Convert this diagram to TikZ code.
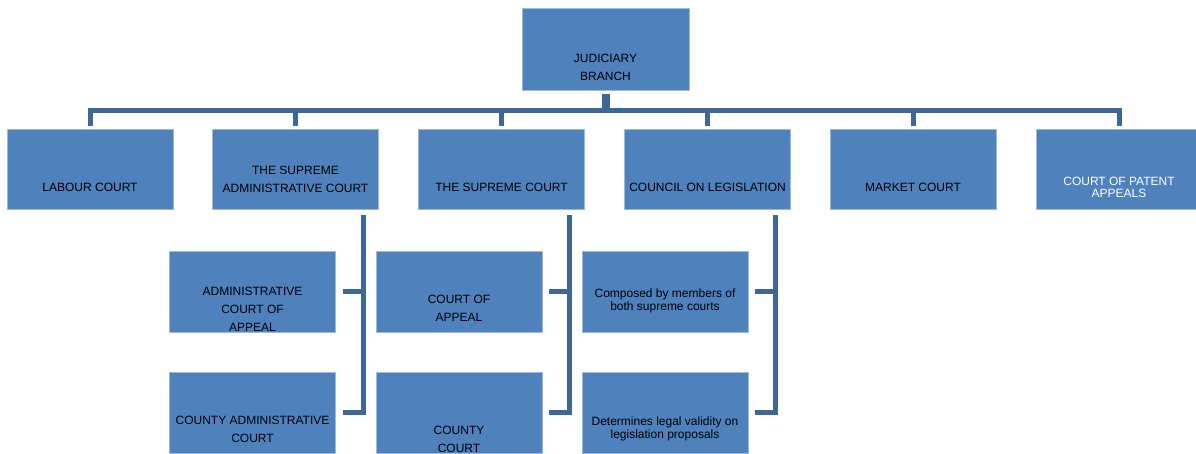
\documentclass[tikz,border=0pt]{standalone}
\usepackage{fontspec}
\setmainfont{Liberation Sans}
\usetikzlibrary{calc}
\definecolor{boxblue}{RGB}{79,129,189}
\definecolor{linkblue}{RGB}{61,102,153}

\begin{document}
\begin{tikzpicture}[x=1pt, y=-1pt,
    box/.style={rectangle, fill=boxblue, draw=boxblue!55!white, very thin,
        minimum width=166pt, minimum height=80pt, inner sep=0pt},
    txt/.style={align=center, font=\fontsize{12}{18}\selectfont, text=black},
    tighttxt/.style={txt, font=\fontsize{12}{13}\selectfont},
    link/.style={draw=linkblue, line width=5pt},
    stem/.style={draw=linkblue, line width=8pt}]
    \useasboundingbox (0,0) rectangle (1196,454);
    \clip (0,0) rectangle (1196,454);
    % top of the tree
    \node[box, minimum width=167pt, minimum height=82pt,
        label={[txt, yshift=-18pt]center:{JUDICIARY\\BRANCH}}] (judiciary) at (605.5,49) {};
    % first row of courts
    \node[box, label={[txt, yshift=-17.5pt]center:LABOUR COURT}] (labour) at (90,169.5) {};
    \node[box, label={[txt, yshift=-9.5pt]center:{THE SUPREME\\ADMINISTRATIVE COURT}}] (sadm) at (295.5,169.5) {};
    \node[box, label={[txt, yshift=-18pt]center:THE SUPREME COURT}] (scourt) at (501.5,169.5) {};
    \node[box, label={[txt, yshift=-18pt]center:COUNCIL ON LEGISLATION}] (council) at (707.5,169.5) {};
    \node[box, label={[txt, yshift=-18pt]center:MARKET COURT}] (market) at (913,169.5) {};
    \node[box, label={[txt, font=\fontsize{12}{12}\selectfont, text=white, yshift=-17.5pt]center:{COURT OF PATENT\\APPEALS}}] (patent) at (1119,169.5) {};
    % lower courts
    \node[box, minimum height=81pt, label={[txt, yshift=-17.5pt]center:{ADMINISTRATIVE\\COURT OF\\APPEAL}}] (adm-appeal) at (252.5,291.5) {};
    \node[box, minimum height=81pt, label={[txt, yshift=-16.5pt]center:{COUNTY ADMINISTRATIVE\\COURT}}] (county-adm) at (252.5,412.5) {};
    \node[box, minimum height=81pt, label={[txt, yshift=-17pt]center:{COURT OF\\APPEAL}}] (appeal) at (459,291.5) {};
    \node[box, minimum height=81pt, label={[txt, yshift=-26.5pt]center:{COUNTY\\COURT}}] (county) at (459,412.5) {};
    \node[box, minimum height=81pt, label={[tighttxt, yshift=-9pt]center:{Composed by members of\\both supreme courts}}] (composed) at (665,291.5) {};
    \node[box, minimum height=81pt, label={[tighttxt, yshift=-16pt]center:{Determines legal validity on\\legislation proposals}}] (validity) at (665,412.5) {};
    % bus below the top box
    \coordinate (bus) at (605.5,110.5);
    \draw[stem] ([yshift=-4pt]judiciary.south) -- (bus);
    \foreach \b in {labour,sadm,scourt,council,market,patent} {
        \draw[link] ([yshift=3pt]\b.north) |- (bus);
    }
    % side links to the lower courts
    \foreach \p/\c in {sadm/adm-appeal, sadm/county-adm, scourt/appeal, scourt/county,
                       council/composed, council/validity} {
        \draw[link] ([xshift=7pt]\c.east) -| ([xshift=-15pt, yshift=-5pt]\p.south east);
    }
\end{tikzpicture}
\end{document}
